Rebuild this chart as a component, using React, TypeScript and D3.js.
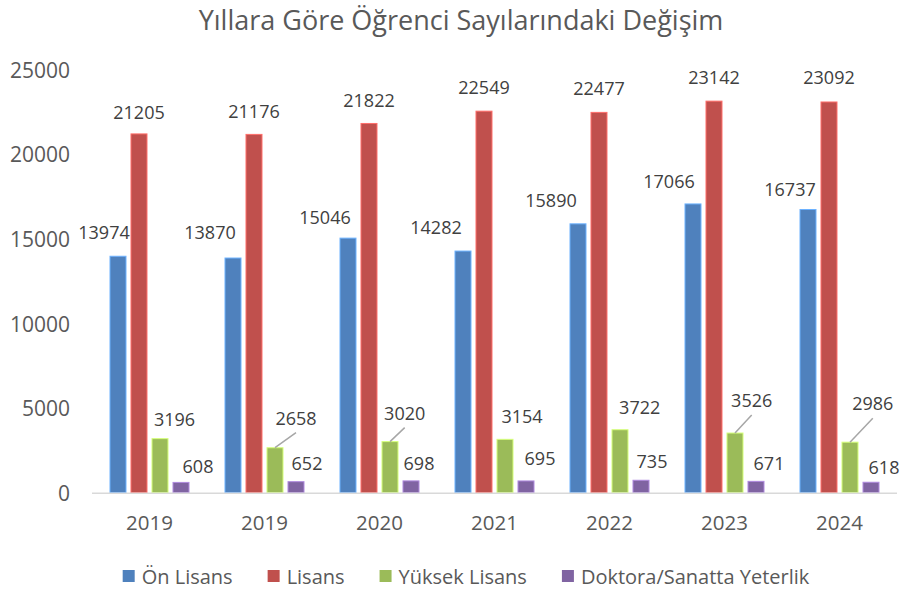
import React, { useMemo } from "react";
import * as d3 from "d3";

const title = "Yıllara Göre Öğrenci Sayılarındaki Değişim";
const categories = ["2019", "2019", "2020", "2021", "2022", "2023", "2024"];
const seriesNames = ["Ön Lisans", "Lisans", "Yüksek Lisans", "Doktora/Sanatta Yeterlik"];
const onLisans = [13974, 13870, 15046, 14282, 15890, 17066, 16737];
const lisans = [21205, 21176, 21822, 22549, 22477, 23142, 23092];
const yuksekLisans = [3196, 2658, 3020, 3154, 3722, 3526, 2986];
const doktora = [608, 652, 698, 695, 735, 671, 618];
const yTicks = [0, 5000, 10000, 15000, 20000, 25000];
const colors = ["#4F81BD", "#C0504D", "#9BBB59", "#8064A2"];

// label placement (layout): [dx, dy] of label centre relative to bar top-centre
const labelOffsets = [
  [[-14, -24], [-23, -26], [-23, -21], [-27, -24], [-27, -24], [-24, -23], [-18, -21]],
  [[0, -22], [0, -23], [0, -23.5], [0, -24], [0, -24], [0, -24.4], [0, -24.5]],
  [[14.5, -20], [21, -30], [14.7, -29], [17, -23], [19.7, -23], [16.7, -33], [22.8, -39]],
  [[17, -16], [11, -19], [8, -18], [14, -23], [11, -19], [13, -18], [13, -15]],
];
const leaderLines = [
  [false, false, false, false, false, false, false],
  [false, false, false, false, false, false, false],
  [false, true, true, false, false, true, true],
  [false, false, false, false, false, false, false],
];

const FONT = "'Open Sans', sans-serif";
const W = 903;
const H = 590;

export default function App() {
  const series = [onLisans, lisans, yuksekLisans, doktora];
  const x0 = d3.scaleBand<number>().domain(d3.range(categories.length)).range([92, 897]).paddingInner(0).paddingOuter(0);
  const x1 = d3.scaleBand<number>().domain(d3.range(series.length)).range([0, x0.bandwidth()]).paddingInner(5 / 21).paddingOuter(0.857);
  const y = d3.scaleLinear().domain([0, 25000]).range([492.7, 69.7]);

  const legend = useMemo(() => {
    const canvas = document.createElement("canvas");
    const ctx = canvas.getContext("2d")!;
    ctx.font = `20px ${FONT}`;
    const sq = 12, gapText = 7, gapItem = 35;
    const widths = seriesNames.map((n) => ctx.measureText(n).width);
    const total = widths.reduce((a, w) => a + sq + gapText + w, 0) + gapItem * (seriesNames.length - 1);
    let cur = 466 - total / 2;
    return seriesNames.map((n, i) => {
      const item = { name: n, x: cur, color: colors[i] };
      cur += sq + gapText + widths[i] + gapItem;
      return item;
    });
  }, []);

  return (
    <svg width={W} height={H} style={{ display: "block", position: "absolute", left: 0, top: 0, background: "#fff" }}>
      <text x={461} y={30} textAnchor="middle" fontFamily={FONT} fontSize={27} fill="#595959">
        {title}
      </text>
      {yTicks.map((t) => (
        <text key={t} x={70} y={y(t)} textAnchor="end" dominantBaseline="central" fontFamily={FONT} fontSize={21} fill="#595959">
          {t}
        </text>
      ))}
      {series.map((vals, s) => (
        <g key={s}>
          {vals.map((v, i) => (
            <rect
              key={i}
              x={x0(i)! + x1(s)!}
              y={y(v)}
              width={x1.bandwidth()}
              height={y(0) - y(v)}
              fill={colors[s]}
              stroke={d3.color(colors[s])!.brighter(0.9).formatHex()}
              strokeWidth={1}
            />
          ))}
        </g>
      ))}
      <line x1={92} x2={897} y1={y(0) + 0.5} y2={y(0) + 0.5} stroke="#D9D9D9" strokeWidth={1.5} />
      {categories.map((c, i) => (
        <text key={i} x={x0(i)! + x0.bandwidth() / 2} y={521.7} textAnchor="middle" dominantBaseline="central" fontFamily={FONT} fontSize={20.5} fill="#595959">
          {c}
        </text>
      ))}
      {series.map((vals, s) => (
        <g key={s}>
          {vals.map((v, i) => {
            const bx = x0(i)! + x1(s)! + x1.bandwidth() / 2;
            const by = y(v);
            const [dx, dy] = labelOffsets[s][i];
            const lx = bx + dx;
            const ly = by + dy;
            return (
              <g key={i}>
                {leaderLines[s][i] && (
                  <line x1={bx} y1={by} x2={lx} y2={ly + 15} stroke="#A6A6A6" strokeWidth={1.5} />
                )}
                <text x={lx} y={ly} textAnchor="middle" dominantBaseline="central" fontFamily={FONT} fontSize={18} fill="#404040">
                  {v}
                </text>
              </g>
            );
          })}
        </g>
      ))}
      {legend.map((l) => (
        <g key={l.name}>
          <rect x={l.x} y={570} width={12} height={12} fill={l.color} />
          <text x={l.x + 19} y={576} dominantBaseline="central" fontFamily={FONT} fontSize={20} fill="#595959">
            {l.name}
          </text>
        </g>
      ))}
    </svg>
  );
}
